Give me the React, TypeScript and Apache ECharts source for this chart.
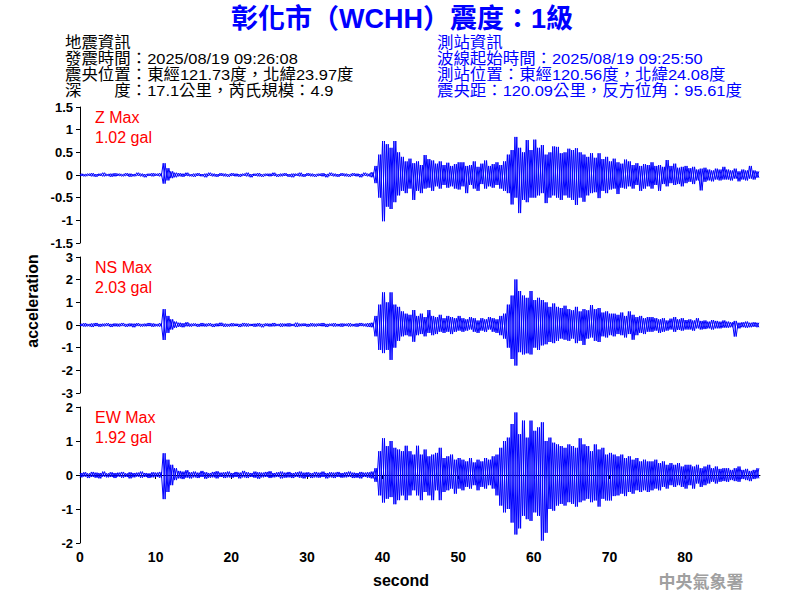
import React, { useEffect, useRef } from "react";
import * as echarts from "echarts";

// Seismogram: for each 0.5 s bin, the highest and lowest excursion (gal)
const binSeconds = 0.5;
const xTicks = [0, 10, 20, 30, 40, 50, 60, 70, 80];

const zUp = [
  0.03, 0.02, 0.03, 0.04, 0.02, 0.03, 0.05, 0.02, 0.03, 0.04,
  0.03, 0.02, 0.04, 0.03, 0.02, 0.05, 0.03, 0.02, 0.03, 0.04,
  0.03, 0.04, 0.26, 0.15, 0.08, 0.05, 0.04, 0.03, 0.05, 0.02,
  0.03, 0.04, 0.02, 0.03, 0.05, 0.03, 0.02, 0.04, 0.03, 0.02,
  0.04, 0.03, 0.02, 0.03, 0.05, 0.02, 0.03, 0.04, 0.02, 0.03,
  0.03, 0.05, 0.02, 0.03, 0.04, 0.02, 0.03, 0.03, 0.05, 0.02,
  0.04, 0.03, 0.02, 0.03, 0.04, 0.02, 0.05, 0.03, 0.02, 0.04,
  0.03, 0.02, 0.04, 0.03, 0.02, 0.05, 0.03, 0.06, 0.2, 0.45,
  0.75, 0.68, 0.6, 0.75, 0.5, 0.4, 0.3, 0.36, 0.26, 0.3,
  0.22, 0.44, 0.35, 0.32, 0.25, 0.3, 0.22, 0.27, 0.2, 0.24,
  0.28, 0.28, 0.2, 0.22, 0.3, 0.18, 0.25, 0.32, 0.2, 0.24,
  0.28, 0.22, 0.3, 0.45, 0.55, 0.84, 0.6, 0.5, 0.77, 0.55,
  0.78, 0.6, 0.66, 0.45, 0.5, 0.63, 0.62, 0.48, 0.5, 0.58,
  0.55, 0.59, 0.5, 0.45, 0.4, 0.48, 0.38, 0.48, 0.35, 0.4,
  0.3, 0.36, 0.28, 0.25, 0.34, 0.3, 0.22, 0.26, 0.2, 0.24,
  0.22, 0.28, 0.2, 0.22, 0.18, 0.33, 0.2, 0.25, 0.16, 0.18,
  0.2, 0.15, 0.18, 0.12, 0.14, 0.16, 0.12, 0.1, 0.14, 0.12,
  0.18, 0.12, 0.1, 0.14, 0.08, 0.12, 0.1, 0.2, 0.1, 0.08,
];
const zDn = [
  -0.02, -0.03, -0.02, -0.03, -0.04, -0.02, -0.03, -0.02, -0.04, -0.03,
  -0.02, -0.03, -0.02, -0.04, -0.03, -0.02, -0.03, -0.05, -0.02, -0.03,
  -0.02, -0.03, -0.19, -0.12, -0.07, -0.05, -0.03, -0.04, -0.02, -0.03,
  -0.04, -0.02, -0.03, -0.05, -0.02, -0.03, -0.04, -0.02, -0.03, -0.04,
  -0.02, -0.03, -0.04, -0.02, -0.03, -0.05, -0.02, -0.03, -0.04, -0.02,
  -0.03, -0.02, -0.04, -0.03, -0.02, -0.04, -0.05, -0.02, -0.03, -0.04,
  -0.02, -0.03, -0.04, -0.02, -0.03, -0.05, -0.02, -0.03, -0.04, -0.02,
  -0.03, -0.04, -0.02, -0.03, -0.05, -0.02, -0.03, -0.05, -0.18, -0.5,
  -1.02, -0.7, -0.75, -0.6, -0.45, -0.35, -0.4, -0.3, -0.55, -0.35,
  -0.4, -0.3, -0.28, -0.35, -0.25, -0.3, -0.22, -0.28, -0.25, -0.3,
  -0.32, -0.25, -0.4, -0.22, -0.3, -0.35, -0.2, -0.3, -0.25, -0.28,
  -0.22, -0.3, -0.35, -0.4, -0.65, -0.5, -0.84, -0.55, -0.6, -0.5,
  -0.5, -0.45, -0.4, -0.62, -0.5, -0.45, -0.5, -0.55, -0.45, -0.5,
  -0.55, -0.66, -0.5, -0.59, -0.45, -0.4, -0.38, -0.51, -0.35, -0.4,
  -0.32, -0.3, -0.42, -0.28, -0.3, -0.25, -0.3, -0.22, -0.35, -0.3,
  -0.25, -0.3, -0.22, -0.35, -0.2, -0.25, -0.18, -0.22, -0.2, -0.25,
  -0.18, -0.15, -0.2, -0.12, -0.34, -0.15, -0.12, -0.14, -0.1, -0.12,
  -0.1, -0.1, -0.12, -0.08, -0.14, -0.1, -0.12, -0.08, -0.1, -0.06,
];

const nsUp = [
  0.06, 0.08, 0.05, 0.07, 0.09, 0.05, 0.06, 0.08, 0.05, 0.07,
  0.06, 0.09, 0.05, 0.07, 0.06, 0.08, 0.05, 0.06, 0.09, 0.07,
  0.05, 0.08, 0.7, 0.4, 0.25, 0.15, 0.1, 0.08, 0.12, 0.06,
  0.07, 0.05, 0.09, 0.06, 0.08, 0.05, 0.07, 0.1, 0.06, 0.05,
  0.08, 0.06, 0.05, 0.09, 0.07, 0.05, 0.06, 0.08, 0.05, 0.07,
  0.06, 0.09, 0.05, 0.07, 0.06, 0.08, 0.05, 0.1, 0.06, 0.07,
  0.05, 0.08, 0.06, 0.07, 0.09, 0.05, 0.06, 0.08, 0.05, 0.07,
  0.06, 0.08, 0.05, 0.07, 0.09, 0.06, 0.08, 0.1, 0.4, 0.9,
  1.44, 1.0, 1.44, 0.9, 0.8, 0.6, 0.5, 0.45, 0.66, 0.4,
  0.5, 0.35, 0.66, 0.4, 0.35, 0.45, 0.3, 0.4, 0.35, 0.3,
  0.4, 0.3, 0.25, 0.35, 0.3, 0.2, 0.3, 0.25, 0.35, 0.3,
  0.25, 0.4, 0.5, 0.9, 1.3, 2.01, 1.5, 1.3, 1.2, 1.5,
  1.1, 1.2, 1.1, 1.0, 0.8, 0.95, 0.8, 0.75, 0.85, 0.7,
  0.65, 0.8, 0.6, 0.7, 0.65, 0.88, 0.7, 0.75, 0.55, 0.6,
  0.5, 0.5, 0.45, 0.55, 0.4, 0.6, 0.45, 0.35, 0.4, 0.3,
  0.35, 0.35, 0.3, 0.25, 0.3, 0.2, 0.28, 0.35, 0.25, 0.3,
  0.22, 0.25, 0.2, 0.3, 0.18, 0.2, 0.15, 0.22, 0.18, 0.15,
  0.2, 0.15, 0.12, 0.18, 0.1, 0.12, 0.15, 0.1, 0.12, 0.1,
];
const nsDn = [
  -0.05, -0.07, -0.06, -0.09, -0.05, -0.08, -0.06, -0.05, -0.09, -0.06,
  -0.07, -0.05, -0.08, -0.06, -0.1, -0.05, -0.07, -0.06, -0.05, -0.08,
  -0.06, -0.07, -0.66, -0.35, -0.2, -0.12, -0.08, -0.1, -0.06, -0.07,
  -0.05, -0.08, -0.06, -0.07, -0.05, -0.09, -0.06, -0.05, -0.08, -0.07,
  -0.06, -0.05, -0.09, -0.06, -0.07, -0.05, -0.08, -0.06, -0.1, -0.05,
  -0.07, -0.06, -0.05, -0.08, -0.06, -0.07, -0.05, -0.09, -0.06, -0.05,
  -0.08, -0.06, -0.07, -0.05, -0.06, -0.09, -0.05, -0.07, -0.06, -0.08,
  -0.05, -0.07, -0.06, -0.08, -0.05, -0.06, -0.09, -0.1, -0.5, -1.1,
  -1.24, -1.1, -1.54, -1.0, -0.7, -0.5, -0.45, -0.5, -0.74, -0.45,
  -0.4, -0.5, -0.35, -0.45, -0.4, -0.3, -0.35, -0.3, -0.4, -0.3,
  -0.25, -0.3, -0.25, -0.2, -0.3, -0.35, -0.25, -0.3, -0.2, -0.3,
  -0.35, -0.45, -0.6, -1.0, -1.5, -1.79, -1.2, -1.3, -1.25, -1.3,
  -1.0, -1.1, -0.9, -0.85, -0.75, -0.8, -0.7, -0.6, -0.65, -0.7,
  -0.6, -0.8, -0.7, -0.88, -0.6, -0.55, -0.7, -0.75, -0.5, -0.55,
  -0.45, -0.5, -0.4, -0.45, -0.55, -0.4, -0.65, -0.45, -0.35, -0.4,
  -0.3, -0.3, -0.25, -0.35, -0.3, -0.25, -0.2, -0.3, -0.22, -0.25,
  -0.2, -0.2, -0.25, -0.15, -0.2, -0.18, -0.15, -0.2, -0.15, -0.15,
  -0.12, -0.12, -0.1, -0.51, -0.15, -0.1, -0.12, -0.1, -0.08, -0.1,
];

const ewUp = [
  0.06, 0.08, 0.05, 0.09, 0.07, 0.06, 0.1, 0.05, 0.08, 0.06,
  0.07, 0.09, 0.05, 0.08, 0.06, 0.07, 0.1, 0.06, 0.05, 0.08,
  0.07, 0.09, 0.64, 0.45, 0.3, 0.2, 0.12, 0.1, 0.14, 0.08,
  0.1, 0.07, 0.12, 0.08, 0.06, 0.09, 0.11, 0.07, 0.08, 0.1,
  0.06, 0.09, 0.07, 0.12, 0.08, 0.06, 0.1, 0.08, 0.07, 0.09,
  0.11, 0.06, 0.08, 0.1, 0.07, 0.09, 0.06, 0.08, 0.1, 0.07,
  0.08, 0.06, 0.09, 0.07, 0.1, 0.06, 0.08, 0.07, 0.09, 0.06,
  0.08, 0.1, 0.07, 0.06, 0.09, 0.07, 0.08, 0.1, 0.2, 0.7,
  1.08, 0.85, 1.0, 0.8, 0.75, 0.7, 0.86, 0.7, 0.6, 0.86,
  0.6, 0.75, 0.55, 0.6, 0.65, 0.8, 0.5, 0.55, 0.6, 0.45,
  0.5, 0.45, 0.4, 0.5, 0.37, 0.45, 0.4, 0.5, 0.45, 0.55,
  0.6, 0.8, 1.0, 1.1, 1.5, 1.84, 1.2, 1.6, 1.1, 1.6,
  1.3, 1.4, 1.55, 1.0, 1.1, 0.95, 0.9, 0.85, 0.8, 0.9,
  0.85, 0.8, 1.08, 0.9, 0.85, 0.7, 0.9, 0.75, 0.8, 0.6,
  0.65, 0.6, 0.55, 0.6, 0.5, 0.55, 0.45, 0.5, 0.4, 0.45,
  0.4, 0.4, 0.45, 0.35, 0.4, 0.3, 0.35, 0.3, 0.35, 0.25,
  0.3, 0.3, 0.25, 0.3, 0.2, 0.25, 0.3, 0.2, 0.25, 0.18,
  0.2, 0.2, 0.15, 0.2, 0.25, 0.15, 0.18, 0.12, 0.15, 0.2,
];
const ewDn = [
  -0.07, -0.05, -0.09, -0.06, -0.08, -0.1, -0.05, -0.07, -0.06, -0.09,
  -0.05, -0.08, -0.06, -0.1, -0.07, -0.05, -0.08, -0.06, -0.09, -0.07,
  -0.06, -0.08, -0.71, -0.5, -0.3, -0.15, -0.1, -0.12, -0.08, -0.1,
  -0.07, -0.09, -0.06, -0.11, -0.08, -0.07, -0.1, -0.06, -0.09, -0.07,
  -0.08, -0.06, -0.1, -0.07, -0.09, -0.06, -0.08, -0.11, -0.07, -0.06,
  -0.09, -0.07, -0.06, -0.1, -0.08, -0.07, -0.09, -0.06, -0.08, -0.1,
  -0.06, -0.09, -0.07, -0.08, -0.06, -0.1, -0.07, -0.09, -0.06, -0.08,
  -0.07, -0.06, -0.09, -0.08, -0.1, -0.06, -0.08, -0.1, -0.2, -0.6,
  -0.81, -0.7, -0.65, -0.86, -0.74, -0.6, -0.74, -0.6, -0.45, -0.6,
  -0.74, -0.5, -0.6, -0.74, -0.45, -0.74, -0.5, -0.45, -0.4, -0.55,
  -0.4, -0.45, -0.35, -0.4, -0.3, -0.45, -0.35, -0.4, -0.3, -0.4,
  -0.6, -0.9, -1.1, -1.0, -1.4, -1.75, -1.57, -1.2, -1.3, -1.35,
  -1.1, -1.2, -1.93, -1.7, -1.0, -1.05, -0.9, -0.85, -0.9, -0.8,
  -0.85, -0.93, -0.8, -0.75, -0.7, -0.8, -0.75, -0.93, -0.7, -0.75,
  -0.75, -0.62, -0.6, -0.55, -0.62, -0.5, -0.55, -0.45, -0.5, -0.45,
  -0.5, -0.45, -0.4, -0.45, -0.35, -0.4, -0.3, -0.35, -0.3, -0.35,
  -0.4, -0.3, -0.4, -0.25, -0.35, -0.3, -0.25, -0.2, -0.25, -0.2,
  -0.18, -0.2, -0.15, -0.18, -0.2, -0.12, -0.15, -0.18, -0.12, -0.1,
];

const panelNames = ["Z Max", "NS Max", "EW Max"];
const panelPeaks = ["1.02 gal", "2.03 gal", "1.92 gal"];
const panelRanges = [
  [-1.5, 1.5, 0.5],
  [-3, 3, 1],
  [-2, 2, 1],
];
const traces = [
  [zUp, zDn],
  [nsUp, nsDn],
  [ewUp, ewDn],
];

const titleText = "彰化市（WCHH）震度：1級";
const quakeInfo = [
  "地震資訊",
  "發震時間：2025/08/19 09:26:08",
  "震央位置：東經121.73度，北緯23.97度",
  "深　　度：17.1公里，芮氏規模：4.9",
];
const stationInfo = [
  "測站資訊",
  "波線起始時間：2025/08/19 09:25:50",
  "測站位置：東經120.56度，北緯24.08度",
  "震央距：120.09公里，反方位角：95.61度",
];

// each bin holds a max and a min; draw both orderings inside the bin so the bin is filled
function toTrace(first: number[], second: number[]) {
  const pts: number[][] = [];
  first.forEach((v, i) => {
    pts.push([i * binSeconds, v]);
    pts.push([i * binSeconds + binSeconds / 2, second[i]]);
  });
  return pts;
}

const FONT = "'Liberation Sans', Arial, 'Noto Sans CJK TC', sans-serif";

export default function App() {
  const ref = useRef<HTMLDivElement>(null);
  useEffect(() => {
    if (!ref.current) return;
    const chart = echarts.init(ref.current, undefined, { renderer: "svg" });
    const tops = [107, 257, 407];
    const grids = tops.map((t) => ({ left: 80, top: t, width: 680, height: 136 }));
    const xAxes = tops.map((_, i) => ({
      type: "value",
      gridIndex: i,
      min: 0,
      max: 89.9,
      interval: 10,
      show: i === 2,
      axisLine: { show: true, lineStyle: { color: "#000", width: 1 } },
      axisTick: { show: true, length: 4, lineStyle: { color: "#000" }, customValues: xTicks },
      axisLabel: {
        color: "#000",
        fontWeight: "bold",
        fontSize: 14,
        fontFamily: FONT,
        margin: 7,
        customValues: xTicks,
      },
      splitLine: { show: false },
    }));
    const yAxes = panelRanges.map((r, i) => ({
      type: "value",
      gridIndex: i,
      min: r[0],
      max: r[1],
      interval: r[2],
      axisLine: { show: true, lineStyle: { color: "#000", width: 1 } },
      axisTick: { show: true, length: 4, lineStyle: { color: "#000" } },
      axisLabel: { color: "#000", fontWeight: "bold", fontSize: 13, fontFamily: FONT, margin: 7 },
      splitLine: { show: false },
    }));
    const series: any[] = [];
    traces.forEach((tr, i) => {
      [toTrace(tr[0], tr[1]), toTrace(tr[1], tr[0])].forEach((data) => {
        series.push({
          type: "line",
          xAxisIndex: i,
          yAxisIndex: i,
          data,
          showSymbol: false,
          symbol: "none",
          lineStyle: { color: "#0000ff", width: 1 },
          clip: true,
        });
      });
    });

    const graphic: any[] = [
      {
        type: "text",
        x: 402,
        y: 19,
        style: {
          text: titleText,
          fill: "#0000ff",
          font: `bold 27px ${FONT}`,
          textAlign: "center",
          textVerticalAlign: "middle",
        },
      },
    ];
    quakeInfo.forEach((s, i) => {
      graphic.push({
        type: "text",
        x: 65,
        y: 43 + i * 16,
        scaleX: 1.06,
        style: { text: s, fill: "#000", font: `15.5px ${FONT}`, textAlign: "left", textVerticalAlign: "middle" },
      });
    });
    stationInfo.forEach((s, i) => {
      graphic.push({
        type: "text",
        x: 437,
        y: 43 + i * 16,
        scaleX: 1.06,
        style: { text: s, fill: "#0000ff", font: `15.5px ${FONT}`, textAlign: "left", textVerticalAlign: "middle" },
      });
    });
    tops.forEach((t, i) => {
      graphic.push({
        type: "text",
        x: 95,
        y: t + 10,
        style: { text: panelNames[i], fill: "#ff0000", font: `16px ${FONT}`, textAlign: "left", textVerticalAlign: "middle" },
      });
      graphic.push({
        type: "text",
        x: 95,
        y: t + 30,
        style: { text: panelPeaks[i], fill: "#ff0000", font: `16px ${FONT}`, textAlign: "left", textVerticalAlign: "middle" },
      });
    });
    graphic.push({
      type: "text",
      x: 32,
      y: 301,
      rotation: Math.PI / 2,
      style: { text: "acceleration", fill: "#000", font: `bold 16px ${FONT}`, textAlign: "center", textVerticalAlign: "middle" },
    });
    graphic.push({
      type: "text",
      x: 401,
      y: 580,
      style: { text: "second", fill: "#000", font: `bold 16px ${FONT}`, textAlign: "center", textVerticalAlign: "middle" },
    });
    graphic.push({
      type: "text",
      x: 701,
      y: 580,
      style: { text: "中央氣象署", fill: "#a0a0a0", font: `bold 17px 'Noto Sans CJK TC', sans-serif`, textAlign: "center", textVerticalAlign: "middle" },
    });

    chart.setOption({
      animation: false,
      backgroundColor: "#fff",
      grid: grids,
      xAxis: xAxes,
      yAxis: yAxes,
      series,
      graphic,
    });
    return () => chart.dispose();
  }, []);
  return <div ref={ref} style={{ position: "fixed", left: 0, top: 0, width: 800, height: 600 }} />;
}
